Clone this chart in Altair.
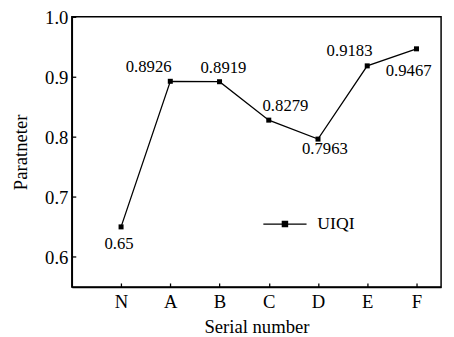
import altair as alt
import pandas as pd

categories = ["N", "A", "B", "C", "D", "E", "F"]
uiqi = [0.65, 0.8926, 0.8919, 0.8279, 0.7963, 0.9183, 0.9467]
labels = ["0.65", "0.8926", "0.8919", "0.8279", "0.7963", "0.9183", "0.9467"]
series_name = "UIQI"
y_ticks = [0.6, 0.7, 0.8, 0.9, 1.0]

df = pd.DataFrame({
    "idx": list(range(1, len(categories) + 1)),
    "cat": categories,
    "value": uiqi,
    "label": labels,
    "series": [series_name] * len(categories),
})

# label offsets (style only)
offsets = {"N": (-2, 18), "A": (-22, -14), "B": (4, -14), "C": (17, -14),
           "D": (7, 10), "E": (-18, -15), "F": (-8, 23)}

FONT = "Liberation Serif"
W, H = 376, 275
label_expr = "[''," + ",".join("'%s'" % c for c in categories) + "][datum.value]"

x_scale = alt.Scale(domain=[0, 7.5], nice=False, zero=False)
y_scale = alt.Scale(domain=[0.55, 1.0], nice=False, zero=False)

x_main = alt.X("idx:Q", scale=x_scale, title="Serial number",
               axis=alt.Axis(values=list(range(1, 8)), labelExpr=label_expr,
                             ticks=False, grid=False, labelPadding=6,
                             titlePadding=6, orient="bottom"))
y_main = alt.Y("value:Q", scale=y_scale, title="Paratneter",
               axis=alt.Axis(values=y_ticks, format=".1f", ticks=False,
                             grid=False, labelPadding=4, titlePadding=14,
                             labelOffset=1, orient="left"))

line = alt.Chart(df).mark_line(color="black", strokeWidth=1.3).encode(
    x=x_main, y=y_main,
    color=alt.Color("series:N",
                    scale=alt.Scale(domain=[series_name], range=["black"]),
                    legend=alt.Legend(
                        orient="none", legendX=194, legendY=188, title=None,
                        symbolType="M-1,0H1M-0.12,-0.12H0.12V0.12H-0.12Z",
                        symbolSize=1936, symbolStrokeWidth=1.3,
                        symbolFillColor="black", symbolStrokeColor="black",
                        labelFont=FONT, labelFontSize=18, labelColor="black",
                        labelOffset=10)),
)

x_tick = alt.X("idx:Q", scale=x_scale, title=None,
               axis=alt.Axis(values=list(range(1, 8)), labels=False, domain=False,
                             ticks=True, tickSize=4, grid=False, offset=-4,
                             orient="bottom", tickColor="black", tickWidth=1.3))
y_tick = alt.Y("value:Q", scale=y_scale, title=None,
               axis=alt.Axis(values=y_ticks, labels=False, domain=False,
                             ticks=True, tickSize=4, grid=False, offset=-4,
                             orient="left", tickColor="black", tickWidth=1.3))

points = alt.Chart(df).mark_square(color="black", size=26, opacity=1).encode(
    x=x_tick, y=y_tick)

texts = []
for c in categories:
    dx, dy = offsets[c]
    texts.append(
        alt.Chart(df).transform_filter(alt.datum.cat == c)
        .mark_text(font=FONT, fontSize=17, color="black", dx=dx, dy=dy,
                   baseline="middle", align="center")
        .encode(x=alt.X("idx:Q", scale=x_scale, axis=None),
                y=alt.Y("value:Q", scale=y_scale, axis=None),
                text=alt.Text("label:N"))
    )

chart = alt.layer(line, points, *texts).resolve_axis(
    x="independent", y="independent"
).properties(
    width=W, height=H,
    autosize=alt.AutoSizeParams(type="none"),
    padding={"left": 65, "top": 6, "right": 5, "bottom": 48},
).configure(
    font=FONT
).configure_view(
    stroke="black", strokeWidth=1.5
).configure_axis(
    domainColor="black", domainWidth=1.5,
    labelFont=FONT, labelFontSize=19, labelColor="black",
    titleFont=FONT, titleFontSize=19, titleColor="black", titleFontWeight="normal",
).configure_text(
    font=FONT, fontSize=17
).configure_legend(
    labelFont=FONT
)

chart.save("out.html", embed_options={"renderer": "svg", "actions": False})
